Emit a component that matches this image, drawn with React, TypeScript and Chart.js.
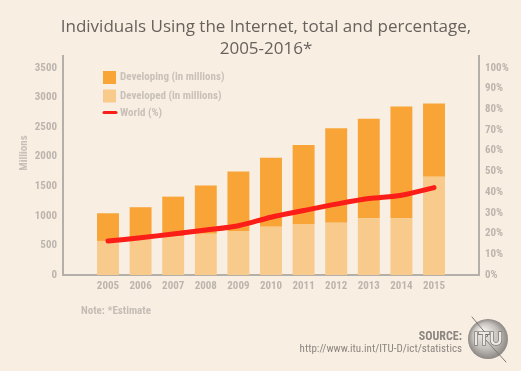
import React, { useEffect, useRef } from "react";
import { Chart, registerables } from "chart.js";

Chart.register(...registerables);

const years = ["2005", "2006", "2007", "2008", "2009", "2010", "2011", "2012", "2013", "2014", "2015"];
const developedMillions = [575, 625, 655, 695, 745, 817, 862, 884, 959, 959, 1662];
const developingMillions = [468, 520, 669, 815, 1002, 1166, 1336, 1597, 1679, 1887, 1235];
const worldPercent = [16.4, 18.0, 19.8, 21.7, 23.8, 27.9, 31.1, 34.2, 36.9, 38.5, 42.2];
const millionsTicks = [0, 500, 1000, 1500, 2000, 2500, 3000, 3500];
const percentTicks = [0, 10, 20, 30, 40, 50, 60, 70, 80, 90, 100];

const titleLines = ["Individuals Using the Internet, total and percentage,", "2005-2016*"];
const legendLabels = ["Developing (in millions)", "Developed (in millions)", "World (%)"];

const BG = "#f8eee2";
const DARK = "#f8a437";
const LIGHT = "#f8ca8c";
const RED = "#fb1d17";
const AXIS = "#b5afa9";
const TICK = "#bdb5ad";
const COND = "'Liberation Sans Narrow', 'Roboto Condensed', 'DejaVu Sans Condensed', Roboto, sans-serif";

const decor = {
  id: "decor",
  beforeDraw(chart: any) {
    const { ctx } = chart;
    ctx.save();
    ctx.fillStyle = BG;
    ctx.fillRect(0, 0, chart.width, chart.height);
    ctx.restore();
  },
  afterDraw(chart: any) {
    const { ctx } = chart;
    ctx.save();
    // title
    ctx.fillStyle = "#67625d";
    ctx.textAlign = "center";
    ctx.textBaseline = "middle";
    ctx.font = "17px 'Open Sans', sans-serif";
    ctx.fillText(titleLines[0], 266, 27);
    ctx.fillText(titleLines[1], 266, 49);

    // y title
    ctx.save();
    ctx.translate(24, 153);
    ctx.rotate(-Math.PI / 2);
    ctx.fillStyle = "#c9c1b9";
    ctx.font = "bold 11px " + COND;
    ctx.fillText("Millions", 0, 0);
    ctx.restore();

    // legend
    const colors = [DARK, LIGHT];
    ctx.textAlign = "left";
    ctx.font = "bold 11px " + COND;
    const ys = [77.5, 96, 113];
    for (let i = 0; i < 2; i++) {
      ctx.fillStyle = colors[i];
      ctx.fillRect(103, ys[i] - 6.5, 13, 13);
    }
    ctx.strokeStyle = RED;
    ctx.lineWidth = 3;
    ctx.lineCap = "round";
    ctx.beginPath();
    ctx.moveTo(104, ys[2] - 0.5);
    ctx.lineTo(116, ys[2] - 0.5);
    ctx.stroke();
    ctx.fillStyle = "#c9c1b9";
    for (let i = 0; i < 3; i++) ctx.fillText(legendLabels[i], 120, ys[i]);

    // note
    ctx.fillStyle = "#c5bdb5";
    ctx.fillText("Note: *Estimate", 81, 311);

    // source
    ctx.textAlign = "right";
    ctx.fillStyle = "#8c8680";
    ctx.font = "bold 12px " + COND;
    ctx.fillText("SOURCE:", 462, 337);
    ctx.font = "11px " + COND;
    ctx.fillText("http://www.itu.int/ITU-D/ict/statistics", 462, 349.5);

    // logo
    const cx = 488, cy = 339, r = 20;
    const g = ctx.createRadialGradient(cx - 6, cy - 8, 2, cx, cy, r);
    g.addColorStop(0, "#f2efeb");
    g.addColorStop(0.6, "#c4c0bb");
    g.addColorStop(1, "#8d8883");
    ctx.fillStyle = g;
    ctx.beginPath();
    ctx.arc(cx, cy, r, 0, Math.PI * 2);
    ctx.fill();
    ctx.strokeStyle = "#7d7873";
    ctx.lineWidth = 1;
    ctx.beginPath();
    ctx.moveTo(472, 317);
    ctx.lineTo(488, 336);
    ctx.lineTo(484, 338);
    ctx.lineTo(506, 362);
    ctx.stroke();
    ctx.textAlign = "center";
    ctx.font = "bold 18px 'Liberation Sans', sans-serif";
    ctx.fillStyle = "#ece8e3";
    ctx.strokeStyle = "#5f5a55";
    ctx.lineWidth = 1.2;
    ctx.strokeText("ITU", cx, cy + 1);
    ctx.fillText("ITU", cx, cy + 1);
    ctx.restore();
  },
};

export default function App() {
  const ref = useRef<HTMLCanvasElement | null>(null);
  useEffect(() => {
    if (!ref.current) return;
    const chart = new Chart(ref.current, {
      type: "bar",
      data: {
        datasets: [
          {
            type: "line",
            label: legendLabels[2],
            data: worldPercent.map((v, i) => ({ x: i, y: v })),
            yAxisID: "y1",
            borderColor: RED,
            borderWidth: 5,
            borderCapStyle: "round",
            borderJoinStyle: "round",
            tension: 0.3,
            pointRadius: 0,
            order: -1,
          } as any,
          {
            label: legendLabels[1],
            data: developedMillions.map((v, i) => ({ x: i, y: v })),
            backgroundColor: LIGHT,
            yAxisID: "y",
            barPercentage: 0.84,
            categoryPercentage: 0.8,
            order: 1,
          },
          {
            label: legendLabels[0],
            data: developingMillions.map((v, i) => ({ x: i, y: v })),
            backgroundColor: DARK,
            yAxisID: "y",
            barPercentage: 0.84,
            categoryPercentage: 0.8,
            order: 2,
          },
        ],
      },
      options: {
        animation: false,
        responsive: false,
        maintainAspectRatio: false,
        layout: { padding: { top: 56, left: 0, right: 0, bottom: 0 } },
        plugins: { legend: { display: false }, tooltip: { enabled: false }, title: { display: false } },
        scales: {
          x: {
            type: "linear",
            min: -0.8,
            max: 10.8,
            stacked: true,
            grid: { display: false, drawTicks: false },
            border: { display: true, color: AXIS, width: 2 },
            afterBuildTicks: (s: any) => {
              s.ticks = years.map((_, i) => ({ value: i }));
            },
            afterFit: (s: any) => {
              s.height = 96;
            },
            ticks: {
              autoSkip: false,
              maxRotation: 0,
              padding: 5,
              color: TICK,
              font: { family: COND, size: 11, weight: "bold" },
              callback: (v: any) => years[Math.round(Number(v))] ?? "",
            },
          },
          y: {
            position: "left",
            stacked: true,
            min: 0,
            max: 3700,
            grid: { display: false, drawTicks: false },
            border: { display: true, color: AXIS, width: 2 },
            afterBuildTicks: (s: any) => {
              s.ticks = millionsTicks.map((v) => ({ value: v }));
            },
            afterFit: (s: any) => {
              s.width = 63;
            },
            ticks: {
              padding: 6,
              color: TICK,
              font: { family: COND, size: 11, weight: "bold" },
              callback: (v: any) => String(v),
            },
          },
          y1: {
            position: "right",
            min: 0,
            max: 3700 / 35,
            grid: { display: false, drawTicks: false },
            border: { display: true, color: AXIS, width: 2 },
            afterBuildTicks: (s: any) => {
              s.ticks = percentTicks.map((v) => ({ value: v }));
            },
            afterFit: (s: any) => {
              s.width = 42;
            },
            ticks: {
              padding: 6,
              color: TICK,
              font: { family: COND, size: 11, weight: "bold" },
              callback: (v: any) => v + "%",
            },
          },
        },
      } as any,
      plugins: [decor],
    });
    return () => chart.destroy();
  }, []);
  return (
    <div style={{ position: "fixed", left: 0, top: 0, width: 521, height: 371, background: BG }}>
      <canvas ref={ref} width={521} height={371} style={{ width: 521, height: 371, display: "block" }} />
    </div>
  );
}
